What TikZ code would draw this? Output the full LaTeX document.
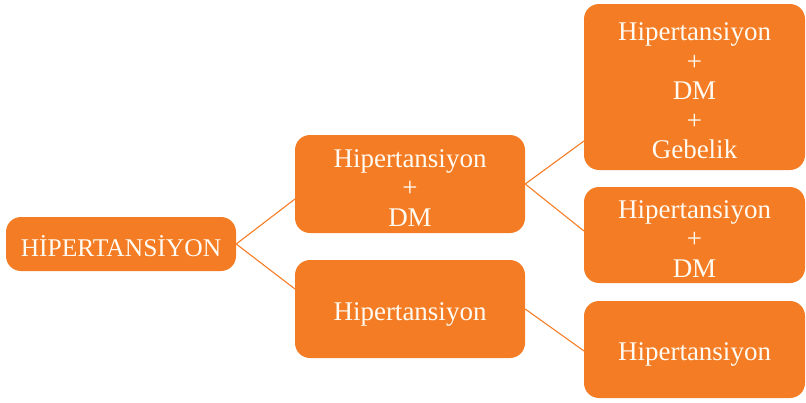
\documentclass[tikz,border=0pt]{standalone}
\usepackage{fontspec}
\setmainfont{Liberation Serif}
\definecolor{boxorange}{RGB}{244,124,36}
\definecolor{boxtext}{RGB}{255,251,242}
\begin{document}
\begin{tikzpicture}[x=1pt,y=-1pt,
  box/.style={fill=boxorange, draw=none, rounded corners=15pt, inner sep=0pt},
  txt/.style={align=center, text=boxtext, inner sep=0pt, yshift=-4pt,
    font=\fontsize{27}{29.5}\selectfont},
  link/.style={draw=boxorange, line width=1.1pt}]
\useasboundingbox (0,0) rectangle (806,402);
\node[box, minimum width=230pt, minimum height=54pt,
  label={[txt, yshift=2pt, font=\fontsize{25.5}{29.5}\selectfont]center:HİPERTANSİYON}] (b1) at (121,244) {};
\node[box, minimum width=230pt, minimum height=98pt,
  label={[txt]center:{Hipertansiyon\\+\\DM}}] (b2) at (410,184) {};
\node[box, minimum width=230pt, minimum height=98pt,
  label={[txt, yshift=-1pt]center:Hipertansiyon}] (b3) at (410,309) {};
\node[box, minimum width=221pt, minimum height=166pt,
  label={[txt]center:{Hipertansiyon\\+\\DM\\+\\Gebelik}}] (b4) at (694.5,87) {};
\node[box, minimum width=221pt, minimum height=96pt,
  label={[txt]center:{Hipertansiyon\\+\\DM}}] (b5) at (694.5,235) {};
\node[box, minimum width=221pt, minimum height=97pt,
  label={[txt, yshift=-1pt]center:Hipertansiyon}] (b6) at (694.5,349.5) {};
\coordinate (in2) at (295,199);
\coordinate (in3) at (295,289);
\coordinate (in4) at (584,141);
\coordinate (in5) at (584,231);
\coordinate (in6) at (584,351);
\draw[link] (b1.east) -- (in2);
\draw[link] (b1.east) -- (in3);
\draw[link] (b2.east) -- (in4);
\draw[link] (b2.east) -- (in5);
\draw[link] (b3.east) -- (in6);
\end{tikzpicture}
\end{document}
